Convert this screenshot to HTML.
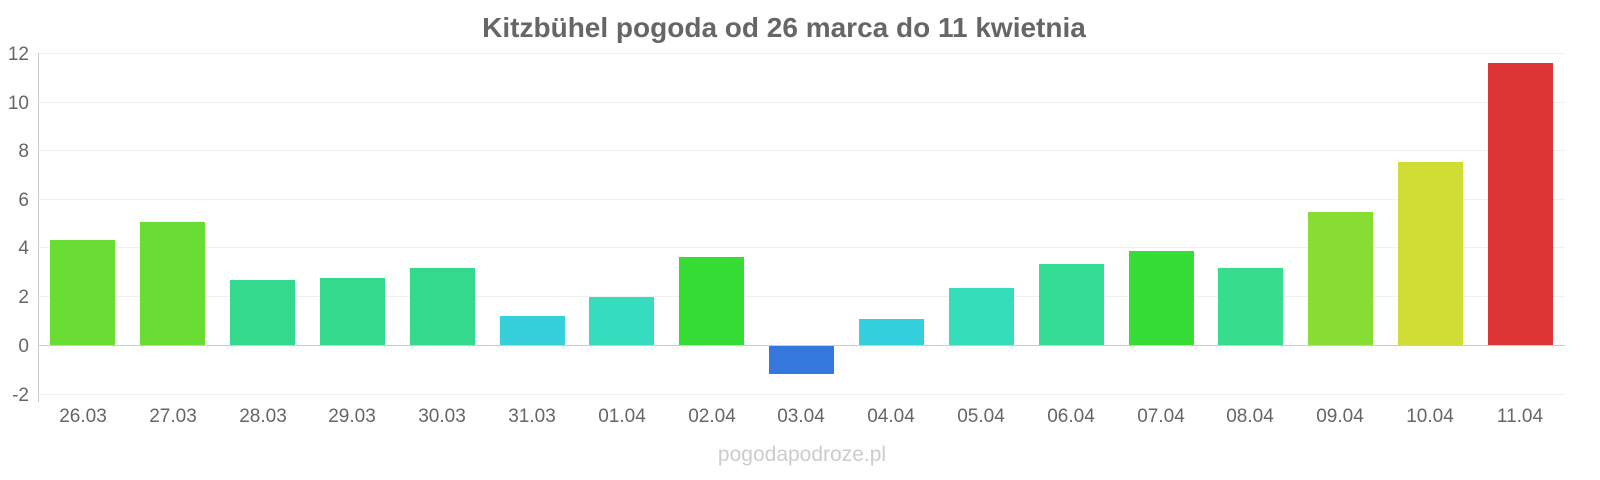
<!DOCTYPE html>
<html><head><meta charset="utf-8"><style>
body{margin:0;background:#fff;}
svg{display:block;font-family:"Liberation Sans",sans-serif;}
</style></head><body>
<svg width="1600" height="480" xmlns="http://www.w3.org/2000/svg">
<text x="784" y="37" text-anchor="middle" font-size="28" font-weight="bold" fill="#666">Kitzbühel pogoda od 26 marca do 11 kwietnia</text>
<g stroke="#f0f0f0" stroke-width="1">
<line x1="38" x2="1565" y1="53.5" y2="53.5"/>
<line x1="38" x2="1565" y1="102.5" y2="102.5"/>
<line x1="38" x2="1565" y1="150.5" y2="150.5"/>
<line x1="38" x2="1565" y1="199.5" y2="199.5"/>
<line x1="38" x2="1565" y1="247.5" y2="247.5"/>
<line x1="38" x2="1565" y1="296.5" y2="296.5"/>
<line x1="38" x2="1565" y1="394.5" y2="394.5"/>
</g>
<g font-size="19" fill="#666" text-anchor="end">
<text x="29" y="60">12</text><text x="29" y="109">10</text><text x="29" y="157">8</text>
<text x="29" y="206">6</text><text x="29" y="254">4</text><text x="29" y="303">2</text>
<text x="29" y="352">0</text><text x="29" y="401">-2</text>
</g>
<g>
<rect x="50" y="240" width="65" height="105" fill="#6add35"/>
<rect x="140" y="222" width="65" height="123" fill="#6add35"/>
<rect x="230" y="280" width="65" height="65" fill="#35d98d"/>
<rect x="320" y="278" width="65" height="67" fill="#35d98d"/>
<rect x="410" y="268" width="65" height="77" fill="#35d98d"/>
<rect x="500" y="316" width="65" height="29" fill="#35d0d9"/>
<rect x="589" y="297" width="65" height="48" fill="#35dcbe"/>
<rect x="679" y="257" width="65" height="88" fill="#35dd35"/>
<rect x="769" y="345" width="65" height="29" fill="#3578dd"/>
<rect x="859" y="319" width="65" height="26" fill="#35d0dd"/>
<rect x="949" y="288" width="65" height="57" fill="#35ddb8"/>
<rect x="1039" y="264" width="65" height="81" fill="#35dd95"/>
<rect x="1129" y="251" width="65" height="94" fill="#35dd35"/>
<rect x="1218" y="268" width="65" height="77" fill="#35dd8d"/>
<rect x="1308" y="212" width="65" height="133" fill="#88dd35"/>
<rect x="1398" y="162" width="65" height="183" fill="#d0dd35"/>
<rect x="1488" y="63" width="65" height="282" fill="#dd3535"/>
</g>
<line x1="38" x2="1565" y1="345.5" y2="345.5" stroke="#ccc"/>
<line x1="38.5" x2="38.5" y1="53" y2="402" stroke="#ccc"/>
<g font-size="19" fill="#666" text-anchor="middle">
<text x="83" y="422">26.03</text><text x="173" y="422">27.03</text><text x="263" y="422">28.03</text>
<text x="352" y="422">29.03</text><text x="442" y="422">30.03</text><text x="532" y="422">31.03</text>
<text x="622" y="422">01.04</text><text x="712" y="422">02.04</text><text x="801" y="422">03.04</text>
<text x="891" y="422">04.04</text><text x="981" y="422">05.04</text><text x="1071" y="422">06.04</text>
<text x="1161" y="422">07.04</text><text x="1250" y="422">08.04</text><text x="1340" y="422">09.04</text>
<text x="1430" y="422">10.04</text><text x="1520" y="422">11.04</text>
</g>
<text x="802" y="461" text-anchor="middle" font-size="21" fill="#ccc">pogodapodroze.pl</text>
</svg>
</body></html>
